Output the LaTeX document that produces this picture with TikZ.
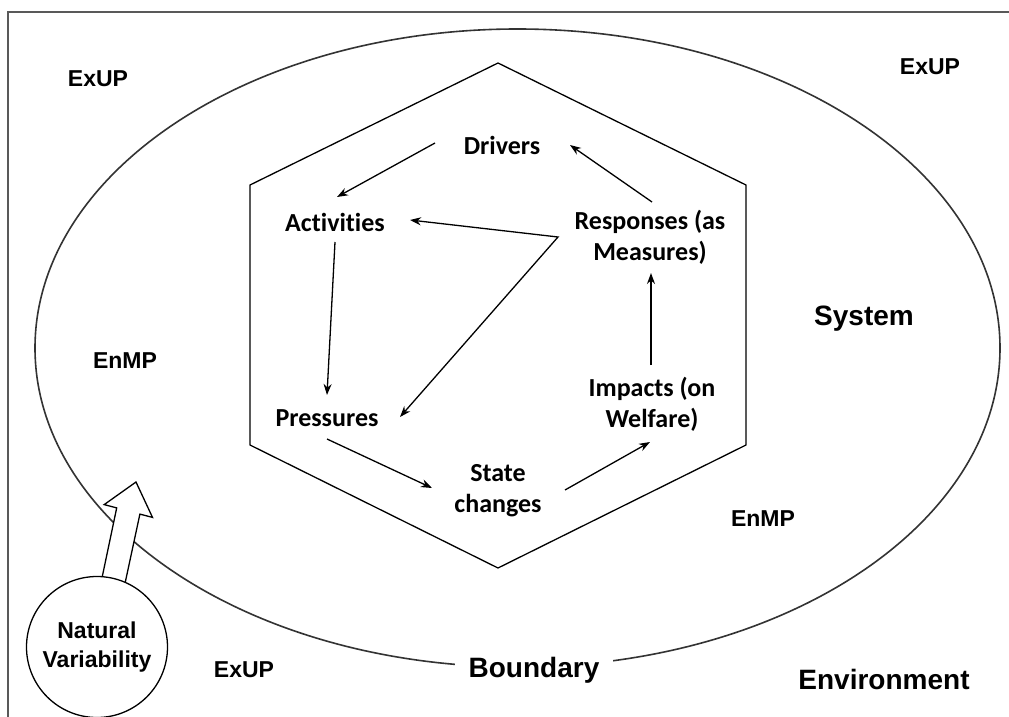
\documentclass[tikz,border=0pt]{standalone}
\usepackage{fontspec}
\setmainfont{Carlito}[Ligatures={NoCommon}]
\newfontfamily\arialfont{Liberation Sans}
\usetikzlibrary{arrows.meta,calc}
\begin{document}
\begin{tikzpicture}[x=1pt,y=-1pt,
  lab/.style={font=\bfseries\fontsize{26}{31}\selectfont, align=center, inner sep=1pt},
  zone/.style={font=\arialfont\bfseries\fontsize{23}{29}\selectfont, inner sep=1pt, align=center},
  bigzone/.style={font=\arialfont\bfseries\fontsize{28}{32}\selectfont, inner sep=1pt},
  arr/.style={line width=1.3pt, -{Stealth[length=11pt,width=8pt]}},
  darr/.style={line width=1.3pt, {Stealth[length=11pt,width=8pt]}-{Stealth[length=11pt,width=8pt]}},
]
\useasboundingbox (0,0) rectangle (1009,717);
\fill[white] (0,0) rectangle (1009,717);
\begin{scope}
\clip (0,0) rectangle (1009,717);
\draw[line width=2pt, black!65] (8,730) -- (8,12) -- (1030,12);
\end{scope}

% system boundary
\draw[line width=1.6pt, black!80] (517.5,348) ellipse [x radius=482.5, y radius=319];

% hexagon
\draw[line width=1.3pt] (498,63) -- (746,185) -- (746,445) -- (498,568) -- (250,445) -- (250,185) -- cycle;

% hollow arrow of natural variability
\draw[line width=1.3pt, fill=white] (100.5,585) -- (116.7,507.9) -- (104.2,504.6) -- (136,482) -- (152.5,517.4) -- (139.9,514.1) -- (123.6,590) -- cycle;
\node[draw, circle, line width=1.3pt, fill=white, minimum size=141pt, zone] (nv) at (97,647) {Natural\\Variability};

% zone labels
\node[zone] (exup1) at (98,79) {ExUP};
\node[zone] (exup2) at (930,67) {ExUP};
\node[zone] (exup3) at (244,670) {ExUP};
\node[zone] (enmp1) at (125,361) {EnMP};
\node[zone] (enmp2) at (763,519) {EnMP};
\node[bigzone] (system) at (864,319) {System};
\node[bigzone, fill=white, inner xsep=14pt, inner ysep=3pt] (boundary) at (534,670) {Boundary};
\node[bigzone] (environment) at (884,679) {Environment};

% DAPSIR nodes
\node[lab] (drivers) at (502,145) {Drivers};
\node[lab] (activities) at (335,222) {Activities};
\node[lab] (responses) at (650,237) {Responses (as\\Measures)};
\node[lab] (pressures) at (327,418) {Pressures};
\node[lab] (state) at (498,491) {State\\changes};
\node[lab] (impacts) at (652,404) {Impacts (on\\Welfare)};
\coordinate (fork) at (558,237);

% connectors
\draw[arr] ($(drivers)+(-67,-2)$) -- ($(activities)+(2,-25)$);
\draw[arr] ($(responses)+(2,-35)$) -- ($(drivers)+(68,0)$);
\draw[darr] ($(activities)+(75,-2)$) -- (fork) -- ($(pressures)+(73,-1)$);
\draw[arr] ($(activities)+(0,20)$) -- ($(pressures)+(0,-23)$);
\draw[arr] ($(pressures)+(0,21)$) -- ($(state)+(-66,-3)$);
\draw[arr] ($(state)+(67,-1)$) -- ($(impacts)+(-2,38)$);
\draw[arr] ($(impacts)+(-1,-39)$) -- ($(responses)+(1,36)$);
\end{tikzpicture}
\end{document}
